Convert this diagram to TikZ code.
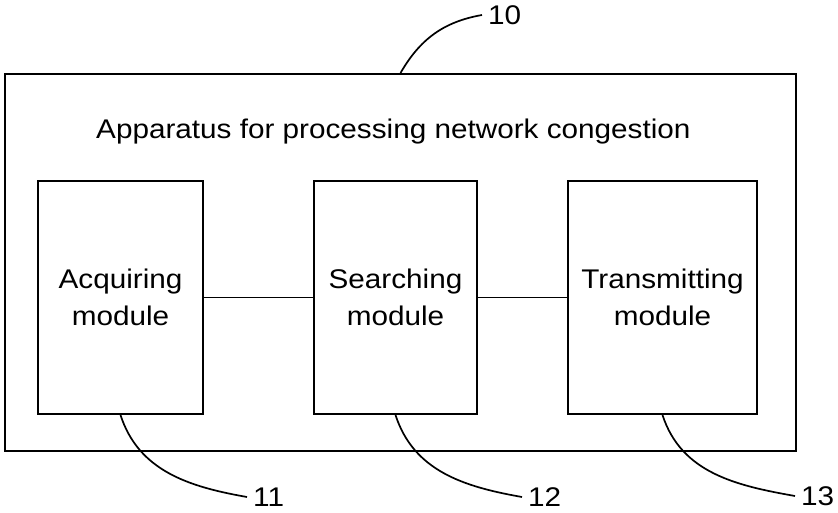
\documentclass[tikz,border=0pt]{standalone}
\usepackage{fontspec}
\setmainfont{Liberation Sans}[FakeStretch=1.1]
\usetikzlibrary{positioning}

\begin{document}
\begin{tikzpicture}[x=1pt,y=1pt,
    block/.style={draw,line width=2pt,inner sep=0pt,align=center,
      minimum height=233pt,font=\fontsize{27}{37}\selectfont},
    refnum/.style={anchor=west,inner sep=6pt,font=\fontsize{27}{32}\selectfont},
    lead/.style={line width=1.7pt}]
  \useasboundingbox (0,0) rectangle (838,512);
  % outer frame
  \node[draw,line width=2pt,minimum width=791pt,minimum height=377pt,inner sep=0pt]
    (apparatus) at (400.5,249.5) {};
  \node[anchor=base west,inner sep=0pt,font=\fontsize{27}{32}\selectfont]
    (title) at (96,373) {Apparatus for processing network congestion};
  % modules
  \node[block,minimum width=165pt] (acq) at (120.5,214.5) {Acquiring\\module};
  \node[block,minimum width=163pt] (srch) at (395.5,214.5) {Searching\\module};
  \node[block,minimum width=189pt] (trans) at (662.5,214.5) {Transmitting\\module};
  \draw[lead] (acq) -- (srch);
  \draw[lead] (srch) -- (trans);
  % reference numerals
  \node[refnum] (l10) at (482,497) {10};
  \node[refnum] (l11) at (247,15) {11};
  \node[refnum] (l12) at (522,15) {12};
  \node[refnum] (l13) at (795,16) {13};
  \draw[lead] (apparatus.north) to[out=60,in=190] (l10.west);
  \draw[lead] (acq.south) to[out=-72,in=170] (l11.west);
  \draw[lead] (srch.south) to[out=-72,in=170] (l12.west);
  \draw[lead] (trans.south) to[out=-72,in=170] (l13.west);
\end{tikzpicture}
\end{document}
